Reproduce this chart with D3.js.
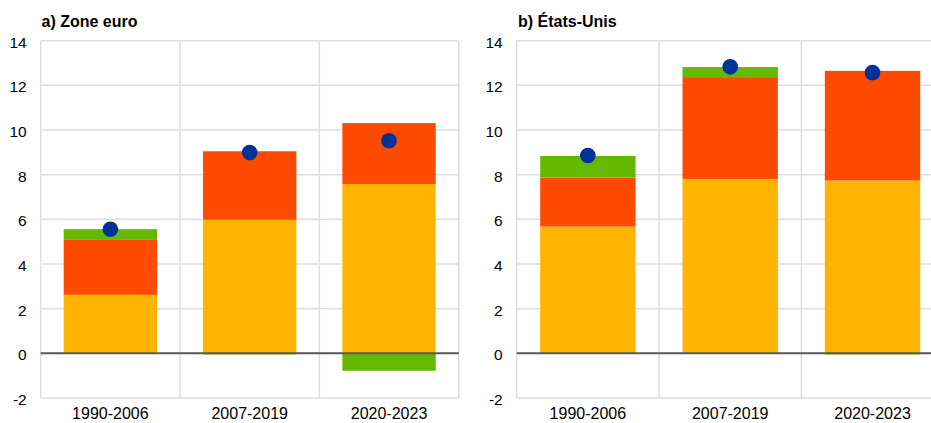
<!DOCTYPE html>
<html><head><meta charset="utf-8">
<script src="https://cdn.jsdelivr.net/npm/d3@7"></script>
<style>body{margin:0;background:#fff}svg{display:block;font-family:"Liberation Sans",Arial,sans-serif}</style>
</head><body><svg id="c" width="931" height="423"></svg>
<script>
const categories = ["1990-2006", "2007-2019", "2020-2023"];
const yTicks = [-2, 0, 2, 4, 6, 8, 10, 12, 14];
const seriesKeys = ["s1", "s2", "s3"];
const seriesColors = ["#FFB400", "#FF4B00", "#65B800"];
const dotColor = "#003299";

const euroS1 = [2.62, 5.98, 7.58];
const euroS2 = [2.46, 3.07, 2.73];
const euroS3 = [0.48, -0.05, -0.78];
const euroTotal = [5.56, 8.99, 9.52];

const usS1 = [5.68, 7.81, 7.74];
const usS2 = [2.19, 4.56, 4.91];
const usS3 = [0.97, 0.45, -0.05];
const usTotal = [8.86, 12.83, 12.57];

const panels = [
  {title: "a) Zone euro", s: [euroS1, euroS2, euroS3], total: euroTotal, x0: 40.7, x1: 458.7, labelX: 41.5},
  {title: "b) États-Unis", s: [usS1, usS2, usS3], total: usTotal, x0: 516.7, x1: 943.7, labelX: 518}
];

const svg = d3.select("#c");
const y = d3.scaleLinear().domain([-2, 14]).range([398, 40.7]);

panels.forEach(p => {
  const g = svg.append("g");
  const x = d3.scaleBand().domain(categories).range([p.x0, p.x1]).padding(0);
  const bw = x.bandwidth();
  const rows = categories.map((c, i) => {
    const r = {cat: c};
    seriesKeys.forEach((k, j) => r[k] = p.s[j][i]);
    return r;
  });
  const stacked = d3.stack().keys(seriesKeys).offset(d3.stackOffsetDiverging)(rows);

  g.selectAll(".hg").data(yTicks).join("line")
    .attr("x1", p.x0).attr("x2", p.x1)
    .attr("y1", d => y(d)).attr("y2", d => y(d))
    .attr("stroke", "#dedede").attr("stroke-width", 1.5);
  const vx = categories.map(c => x(c)).concat([p.x1]);
  g.selectAll(".vg").data(vx).join("line")
    .attr("x1", d => d).attr("x2", d => d)
    .attr("y1", y(14)).attr("y2", y(-2))
    .attr("stroke", "#dedede").attr("stroke-width", 1.5);

  stacked.forEach((layer, j) => {
    g.selectAll(null).data(layer).join("rect")
      .attr("x", d => x(d.data.cat) + bw * 0.165)
      .attr("width", bw * 0.67)
      .attr("y", d => y(Math.max(d[0], d[1])))
      .attr("height", d => Math.abs(y(d[0]) - y(d[1])))
      .attr("fill", seriesColors[j]);
  });

  g.append("line").attr("x1", p.x0).attr("x2", p.x1)
    .attr("y1", y(0)).attr("y2", y(0))
    .attr("stroke", "#595959").attr("stroke-width", 2);

  g.selectAll(".dot").data(categories).join("circle")
    .attr("cx", c => x(c) + bw / 2)
    .attr("cy", (c, i) => y(p.total[i]))
    .attr("r", 7.8).attr("fill", dotColor);

  g.selectAll(".yl").data(yTicks).join("text")
    .attr("x", p.x0 - 14).attr("y", d => y(d) + 7)
    .attr("text-anchor", "end").attr("font-size", 15.5).attr("fill", "#000")
    .text(d => d);

  g.selectAll(".xl").data(categories).join("text")
    .attr("x", c => x(c) + bw / 2).attr("y", 419)
    .attr("text-anchor", "middle").attr("font-size", 16).attr("fill", "#000")
    .text(c => c);

  g.append("text").attr("x", p.labelX).attr("y", 27)
    .attr("font-size", 16).attr("font-weight", "bold").attr("fill", "#000")
    .text(p.title);
});
</script></body></html>
